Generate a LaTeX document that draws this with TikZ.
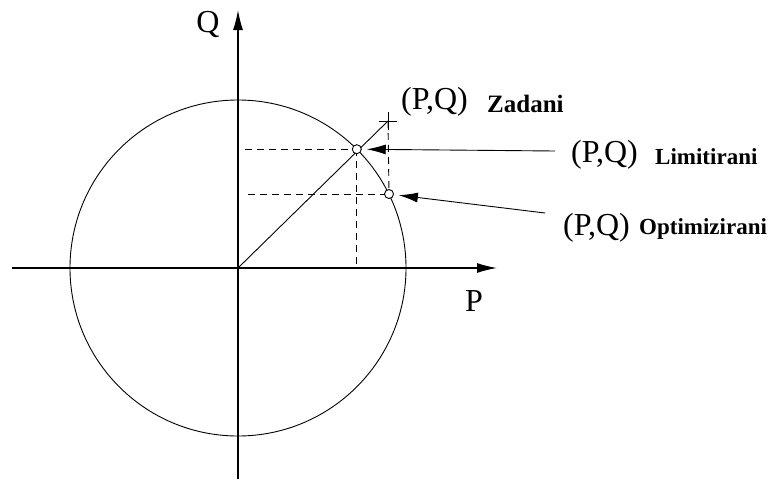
\documentclass[tikz,border=0pt]{standalone}
\usepackage{fontspec}
\setmainfont{Liberation Serif}
\usetikzlibrary{arrows.meta}
\begin{document}
\begin{tikzpicture}[x=1pt,y=-1pt,
  axis/.style={line width=1.3pt,-{Latex[length=20pt,width=10pt]}},
  thin line/.style={line width=0.9pt},
  dash line/.style={line width=0.9pt,dash pattern=on 7pt off 5pt},
  pointer/.style={line width=0.9pt,shorten >=5pt,-{Latex[length=19pt,width=10pt]}},
  pq/.style={font=\fontsize{32}{32}\selectfont,inner sep=0pt,anchor=west},
  tag/.style={font=\fontsize{23}{23}\selectfont\bfseries,inner sep=0pt,anchor=west},
  pt/.style={circle,draw,fill=white,line width=0.9pt,inner sep=0pt,minimum size=9pt}]
\useasboundingbox (0,0) rectangle (770,479);
\coordinate (O) at (238,268);
\coordinate (xl) at (12,268);
\coordinate (xr) at (497,268);
\coordinate (yb) at (238,479);
\coordinate (yt) at (238,10);
\draw[axis] (xl) -- (xr);
\draw[axis] (yb) -- (yt);
\draw[thin line] (O) circle (168);
\coordinate (Z) at (388,121);
\draw[thin line] (O) -- (Z);
\draw[thin line] (Z) ++(-9,0) -- ++(18,0);
\draw[thin line] (Z) ++(0,-9) -- ++(0,18);
\coordinate (L) at (356.8,149.2);
\coordinate (M) at (389,194);
\coordinate (Lh) at (245,149.2);
\coordinate (Lv) at (356.8,268);
\coordinate (Mh) at (248,194);
\draw[dash line] (Lh) -- (L);
\draw[dash line] (L) -- (Lv);
\draw[dash line] (Mh) -- (M);
\draw[dash line] (Z) -- (M);
\node[pt] (Lp) at (L) {};
\node[pt] (Mp) at (M) {};
\coordinate (La) at (555,151);
\coordinate (Ma) at (545,213);
\draw[pointer] (La) -- (Lp);
\draw[pointer] (Ma) -- (Mp);
\node[pq] (pq1) at (401,102) {(P,Q)};
\node[tag,font=\fontsize{25}{25}\selectfont\bfseries] (t1) at (487,104) {Zadani};
\node[pq] (pq2) at (571,155) {(P,Q)};
\node[tag] (t2) at (655,157) {Limitirani};
\node[pq] (pq3) at (563,228) {(P,Q)};
\node[tag] (t3) at (639,229) {Optimizirani};
\node[font=\fontsize{32}{32}\selectfont,inner sep=0pt] (Q) at (208,24) {Q};
\node[font=\fontsize{32}{32}\selectfont,inner sep=0pt] (P) at (474,301) {P};
\end{tikzpicture}
\end{document}
